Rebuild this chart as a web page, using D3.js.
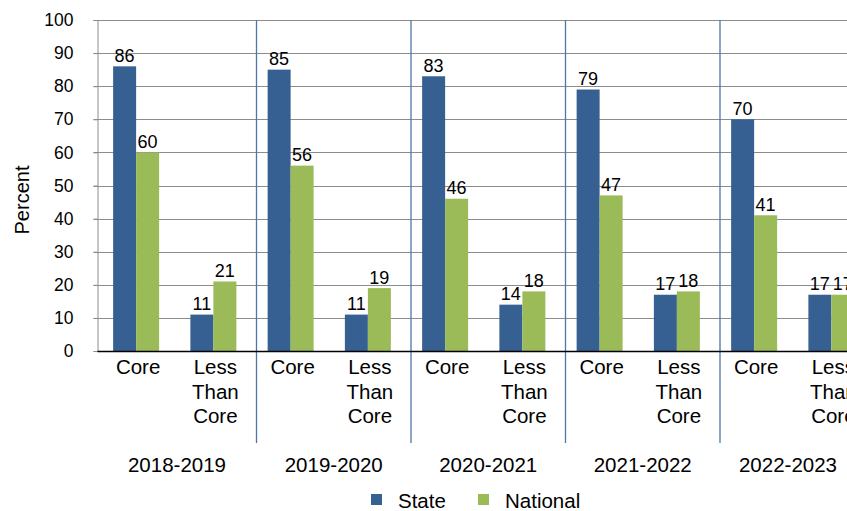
<!DOCTYPE html>
<html><head><meta charset="utf-8">
<script src="https://cdn.jsdelivr.net/npm/d3@7"></script>
<style>html,body{margin:0;padding:0;background:#fff;overflow:hidden}svg{display:block}</style>
</head><body>
<svg id="c" width="847" height="511"></svg>
<script>
const years = ["2018-2019","2019-2020","2020-2021","2021-2022","2022-2023"];
const categories = ["Core","Less Than Core"];
const seriesNames = ["State","National"];
const stateValues = [86, 11, 85, 11, 83, 14, 79, 17, 70, 17];
const nationalValues = [60, 21, 56, 19, 46, 18, 47, 18, 41, 17];
const yTicks = [0,10,20,30,40,50,60,70,80,90,100];
const colors = {State:"#376092", National:"#9bbb59"};

const font = "'Liberation Sans', Arial, sans-serif";
const svg = d3.select("#c");
const left = 97.5, catW = 77.25;
const keys = [];
years.forEach(y => categories.forEach(c => keys.push(y + "|" + c)));
const x0 = d3.scaleBand().domain(keys).range([left, left + catW * keys.length]).padding(0);
const x1 = d3.scaleBand().domain(seriesNames).range([0, x0.bandwidth()]).paddingInner(0).paddingOuter(0.68);
const y = d3.scaleLinear().domain([0, 100]).range([351, 20]);

// gridlines
svg.append("g").selectAll("line").data(yTicks.filter(d => d > 0)).join("line")
  .attr("x1", left - 4).attr("x2", 847)
  .attr("y1", d => Math.round(y(d)) + 0.5).attr("y2", d => Math.round(y(d)) + 0.5)
  .attr("stroke", "#8c8c8c").attr("stroke-width", 1);

// y axis
const yAxis = d3.axisLeft(y).tickValues(yTicks).tickSize(4).tickPadding(20);
const gy = svg.append("g").attr("transform", `translate(${left},0)`).call(yAxis);
gy.select(".domain").attr("stroke", "#8c8c8c");
gy.selectAll(".tick line").attr("stroke", "#8c8c8c");
gy.selectAll(".tick text").attr("font-family", font).attr("font-size", 17.5).attr("fill", "#000");

// separators between years
const sepX = d => x0(d + "|Core") + 4.5;
svg.append("g").selectAll("line").data(years.slice(1)).join("line")
  .attr("x1", sepX).attr("x2", sepX)
  .attr("y1", 20).attr("y2", 443)
  .attr("stroke", "#4f76aa").attr("stroke-width", 1.3);

// bars
const rows = keys.map((k, i) => ({key: k, State: stateValues[i], National: nationalValues[i]}));
const gBars = svg.append("g");
rows.forEach(r => {
  seriesNames.forEach(s => {
    const bx = x0(r.key) + x1(s);
    gBars.append("rect").attr("x", bx).attr("width", x1.bandwidth())
      .attr("y", y(r[s])).attr("height", y(0) - y(r[s])).attr("fill", colors[s]);
    gBars.append("text").attr("x", bx + x1.bandwidth() / 2).attr("y", y(r[s]) - 4.5)
      .attr("text-anchor", "middle").attr("font-family", font).attr("font-size", 18)
      .attr("fill", "#000").text(r[s]);
  });
});

// x axis line
svg.append("line").attr("x1", left).attr("x2", 847).attr("y1", 351.5).attr("y2", 351.5)
  .attr("stroke", "#000").attr("stroke-width", 1.3);

// category labels
const gCat = svg.append("g");
rows.forEach(r => {
  const c = r.key.split("|")[1];
  const words = c.split(" ");
  const t = gCat.append("text").attr("text-anchor", "middle").attr("font-family", font)
    .attr("font-size", 20.5).attr("fill", "#000");
  words.forEach((w, i) => {
    t.append("tspan").attr("x", x0(r.key) + x0.bandwidth() / 2 + 2).attr("y", 374 + i * 24.5).text(w);
  });
});

// year labels: centred between separators, last one within the visible span
const visibleRight = 856;
const yearCenter = (d, i) => {
  const a = i === 0 ? left : sepX(d);
  const b = i === years.length - 1 ? visibleRight : sepX(years[i + 1]);
  return (a + b) / 2;
};
svg.append("g").selectAll("text").data(years).join("text")
  .attr("x", yearCenter).attr("y", 472)
  .attr("text-anchor", "middle").attr("font-family", font).attr("font-size", 20.5)
  .attr("fill", "#000").text(d => d);

// y title
svg.append("text").attr("transform", "translate(29,200) rotate(-90)")
  .attr("text-anchor", "middle").attr("font-family", font).attr("font-size", 20)
  .attr("fill", "#000").text("Percent");

// legend
const legX = [371, 478];
const lg = svg.append("g");
seriesNames.forEach((s, i) => {
  lg.append("rect").attr("x", legX[i]).attr("y", 494).attr("width", 11).attr("height", 11).attr("fill", colors[s]);
  lg.append("text").attr("x", legX[i] + 27).attr("y", 508).attr("font-family", font)
    .attr("font-size", 20.5).attr("fill", "#000").text(s);
});
</script>
</body></html>
